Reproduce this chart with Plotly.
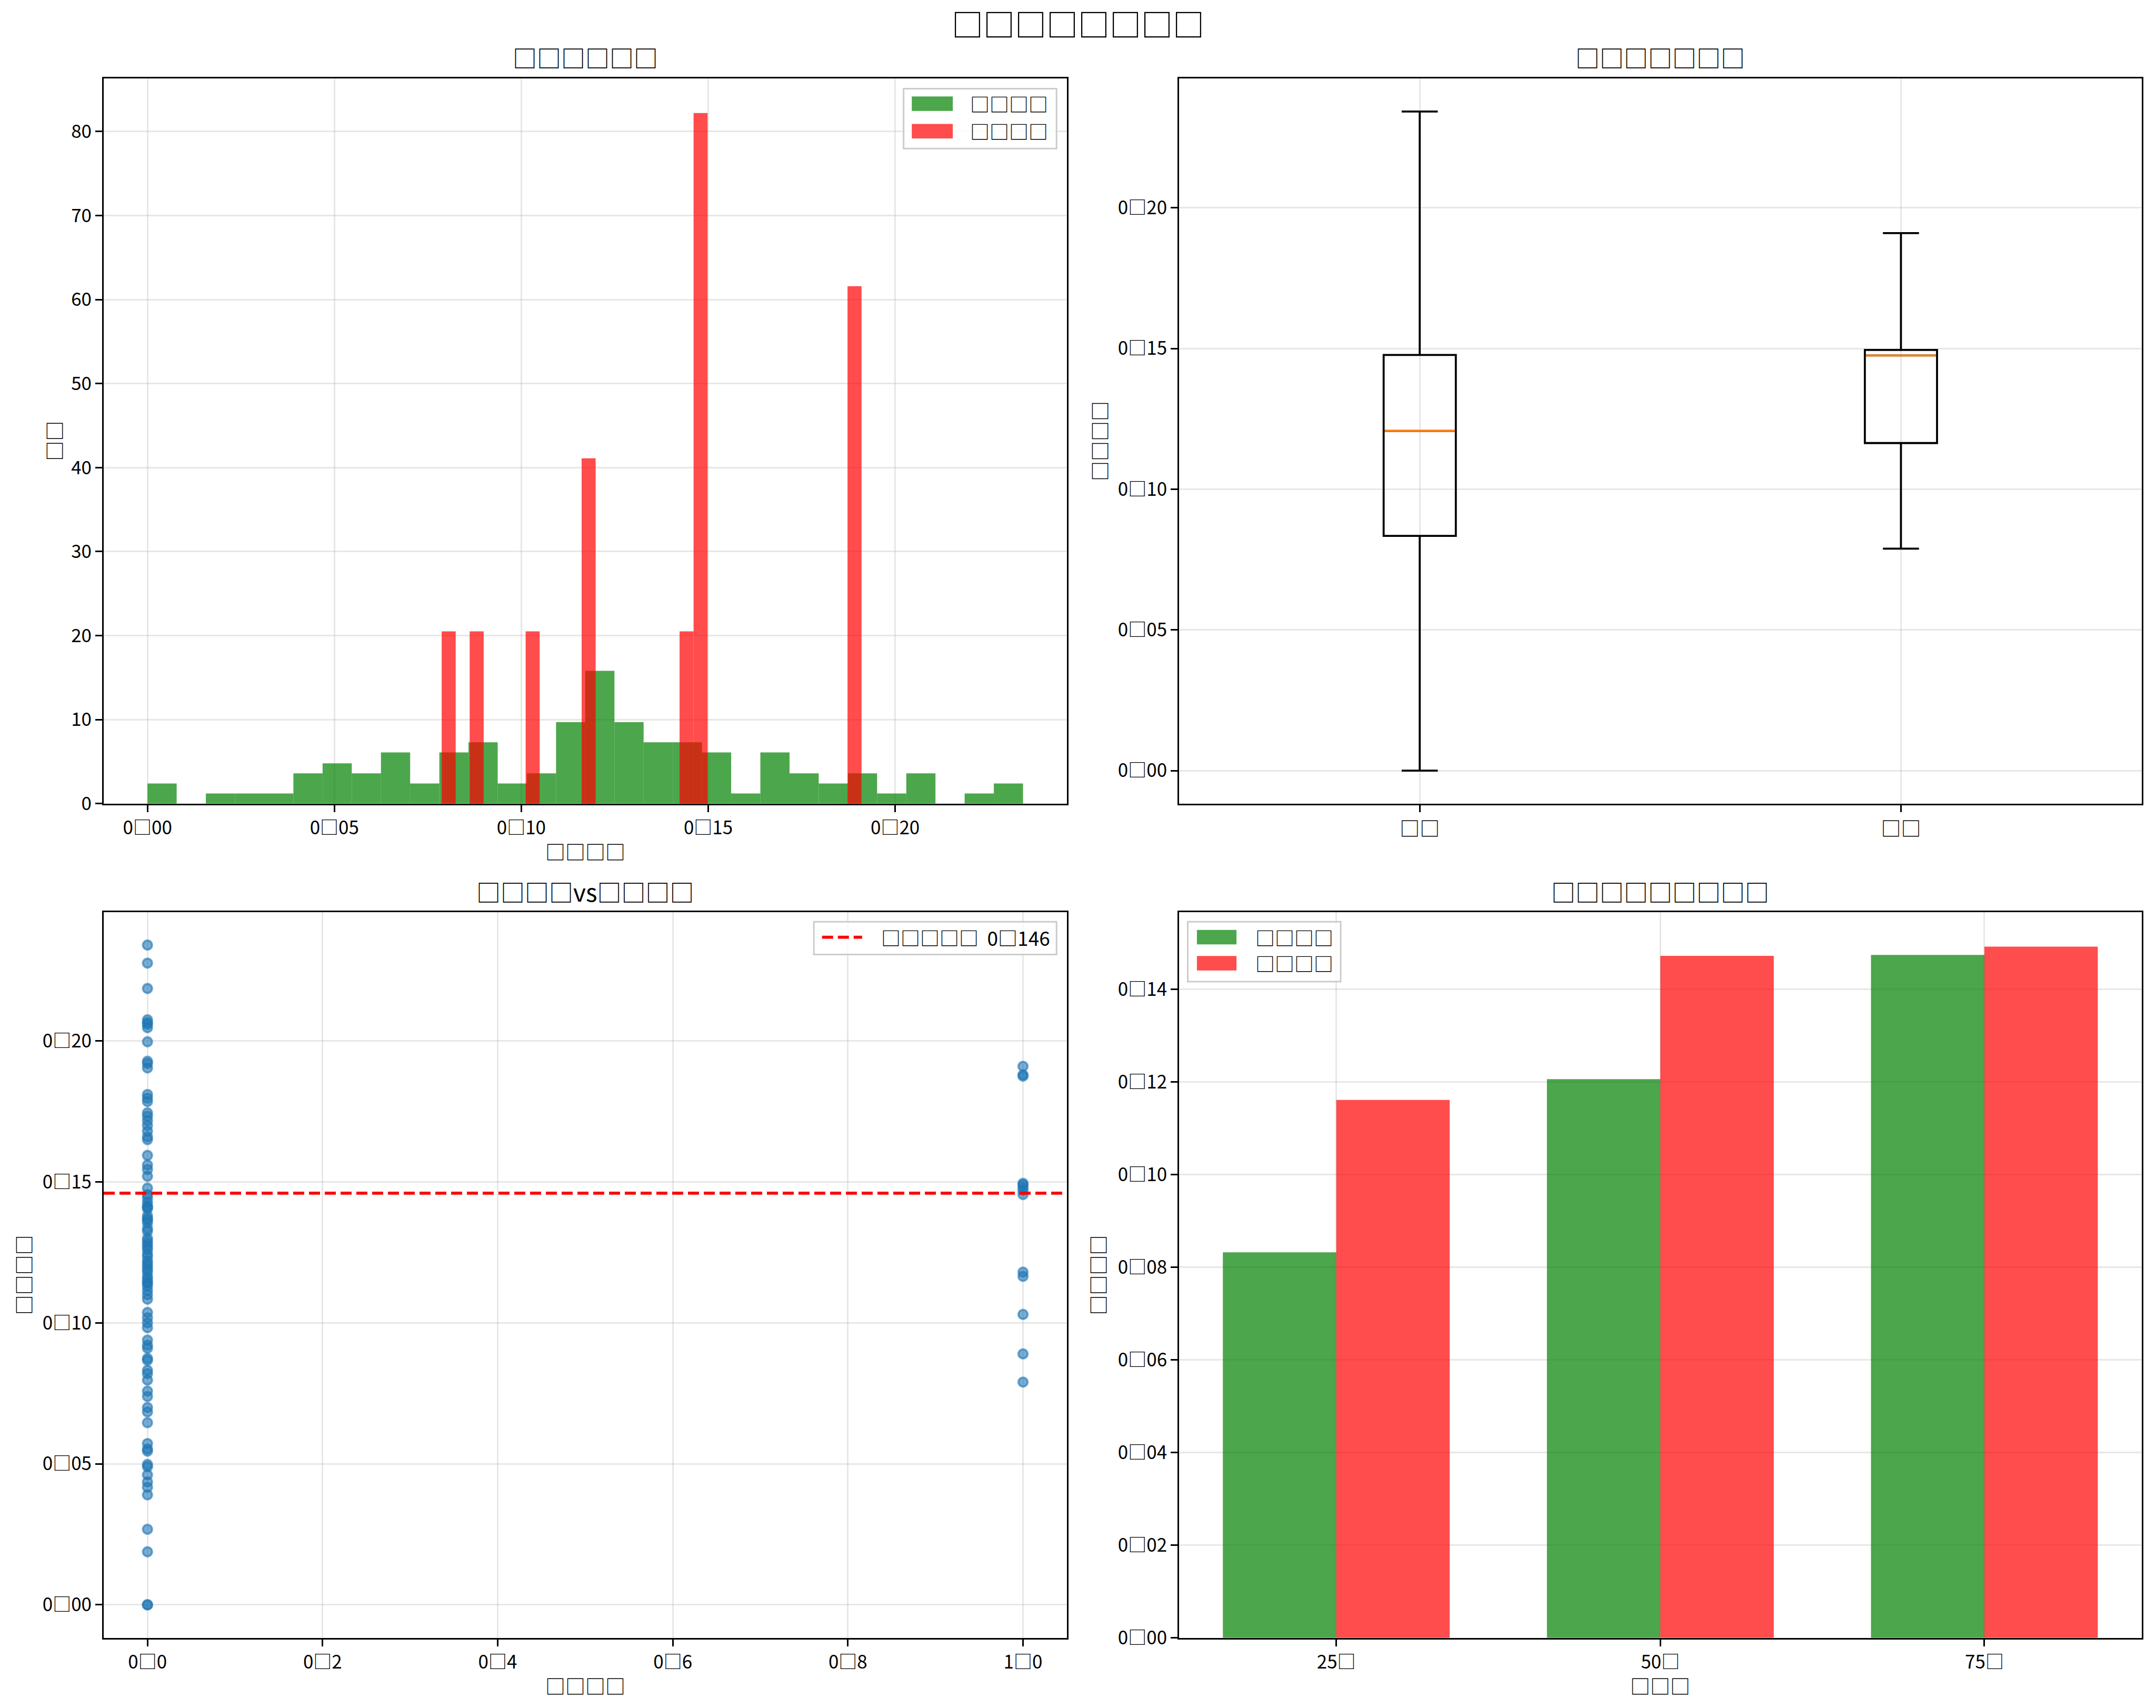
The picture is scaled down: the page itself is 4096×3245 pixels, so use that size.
import numpy as np
import plotly.graph_objects as go

# ---------------- data ----------------
BOX = "□"
sup_title = "□□□□□□□□"
titles = ["□□□□□□", "□□□□□□□", "□□□□vs□□□□", "□□□□□□□□□"]
series_names = ["□□□□", "□□□□"]

# histogram (density heights), 30 bins each
green_hist_range = (0.0, 0.2342)
green_hist_heights = [2.4, 0, 1.2, 1.2, 1.2, 3.6, 4.8, 3.6, 6.1, 2.4,
                      6.1, 7.3, 2.4, 3.6, 9.7, 15.8, 9.7, 7.3, 7.3, 6.1,
                      1.2, 6.1, 3.6, 2.4, 3.6, 1.2, 3.6, 0, 1.2, 2.4]
red_hist_range = (0.0787, 0.1910)
red_hist_heights = [20.5, 0, 20.5, 0, 0, 0, 20.5, 0, 0, 0,
                    41.1, 0, 0, 0, 0, 0, 0, 20.5, 82.2, 0,
                    0, 0, 0, 0, 0, 0, 0, 0, 0, 61.6]

# box plot statistics
box_labels = ["□□", "□□"]
box_q1 = [0.0834, 0.1164]
box_median = [0.1207, 0.1475]
box_q3 = [0.1477, 0.1495]
box_low = [0.0000, 0.0789]
box_high = [0.2342, 0.1910]

# scatter
scatter_y_group0 = [0.234, 0.2276, 0.2186, 0.2075, 0.2065, 0.2059, 0.2047, 0.1997,
                    0.1928, 0.192, 0.1904, 0.181, 0.1797, 0.1785, 0.1745, 0.1733,
                    0.1717, 0.170, 0.168, 0.166, 0.165, 0.1594, 0.156, 0.1544,
                    0.152, 0.1478, 0.1455, 0.1444, 0.1428, 0.1415, 0.141, 0.1405,
                    0.138, 0.137, 0.1365, 0.1355, 0.1335, 0.1325, 0.130, 0.129,
                    0.128, 0.127, 0.126, 0.1245, 0.1235, 0.122, 0.121, 0.120,
                    0.119, 0.118, 0.1165, 0.1155, 0.1145, 0.114, 0.113, 0.1115,
                    0.110, 0.1084, 0.1037, 0.1018, 0.100, 0.0983, 0.0939, 0.0921,
                    0.091, 0.0874, 0.0867, 0.0832, 0.082, 0.0797, 0.0758, 0.0739,
                    0.070, 0.0684, 0.0646, 0.0572, 0.0553, 0.0545, 0.0498, 0.049,
                    0.0461, 0.0436, 0.0417, 0.039, 0.0268, 0.0188, 0.0, 0.0]
scatter_y_group1 = [0.079, 0.089, 0.103, 0.1165, 0.118, 0.1455, 0.147, 0.148,
                    0.149, 0.1495, 0.1875, 0.188, 0.191]
scatter_x_values = [0.0, 1.0]
mean_value = 0.146
mean_label = "□□□□□\u00a0\u00a00□146"

# percentile bars
pct_labels = ["25□", "50□", "75□"]
pct_green = [0.0832, 0.1206, 0.1474]
pct_red = [0.1161, 0.1472, 0.1492]

# axis labels
xlabels = ["□□□□", None, "□□□□", "□□□"]
ylabels = ["□□", "□□□□", "□□□□", "□□□□"]

# ---------------- styling ----------------
W, H = 4096, 3245
FONT = "Noto Sans CJK SC"
GREEN = "rgba(0,128,0,0.7)"
RED = "rgba(255,0,0,0.7)"
GRID = "rgba(176,176,176,0.3)"
TICK_FS = 35
LABEL_FS = 38
TITLE_FS = 46
SUP_FS = 60
LEG_FS = 37
LW = 3.0

XD = [[0.0481, 0.4948], [0.5469, 0.9933], [0.0481, 0.4948], [0.5469, 0.9933]]
YD = [[0.5295, 0.954], [0.5295, 0.954], [0.0411, 0.466], [0.0411, 0.466]]


def fmt(v, nd):
    return f"{v:.{nd}f}".replace(".", BOX)


def pad(lo, hi, f=0.05):
    d = hi - lo
    return [lo - f * d, hi + f * d]


fig = go.Figure()

# --- TL histogram ---
def hist_bars(rng, heights, color, name):
    n = len(heights)
    edges = np.linspace(rng[0], rng[1], n + 1)
    centers = (edges[:-1] + edges[1:]) / 2
    w = edges[1] - edges[0]
    return go.Bar(x=centers, y=heights, width=w, marker=dict(color=color, line=dict(width=0)),
                  name=name, showlegend=False, xaxis="x", yaxis="y")

fig.add_trace(hist_bars(green_hist_range, green_hist_heights, GREEN, series_names[0]))
fig.add_trace(hist_bars(red_hist_range, red_hist_heights, RED, series_names[1]))

# --- TR box plot ---
box_pos = [1, 2]
for i, p in enumerate(box_pos):
    fig.add_trace(go.Box(x=[p], q1=[box_q1[i]], median=[box_median[i]], q3=[box_q3[i]],
                         lowerfence=[box_low[i]], upperfence=[box_high[i]],
                         width=0.15, whiskerwidth=0.5, fillcolor="rgba(0,0,0,0)",
                         line=dict(color="black", width=3.8), boxpoints=False,
                         showlegend=False, xaxis="x2", yaxis="y2", hoverinfo="skip"))
    fig.add_trace(go.Scatter(x=[p - 0.075 + 0.002, p + 0.075 - 0.002], y=[box_median[i]] * 2,
                             mode="lines", line=dict(color="#ff7f0e", width=3.8),
                             showlegend=False, xaxis="x2", yaxis="y2"))

# --- BL scatter ---
for xv, ys in zip(scatter_x_values, [scatter_y_group0, scatter_y_group1]):
    fig.add_trace(go.Scatter(x=[xv] * len(ys), y=ys, mode="markers",
                             marker=dict(size=17.5, color="rgba(31,119,180,0.6)",
                                         line=dict(width=3.8, color="rgba(31,119,180,0.6)")),
                             showlegend=False, xaxis="x3", yaxis="y3"))

# --- BR grouped bars ---
bw = 0.35
idx = np.arange(len(pct_labels))
fig.add_trace(go.Bar(x=idx - bw / 2, y=pct_green, width=bw, marker=dict(color=GREEN, line=dict(width=0)),
                     showlegend=False, xaxis="x4", yaxis="y4"))
fig.add_trace(go.Bar(x=idx + bw / 2, y=pct_red, width=bw, marker=dict(color=RED, line=dict(width=0)),
                     showlegend=False, xaxis="x4", yaxis="y4"))

# ---------------- axes ----------------
all_y0 = scatter_y_group0 + scatter_y_group1
green_edges_hi = green_hist_range[1]
axes_cfg = [
    dict(xr=pad(green_hist_range[0], green_edges_hi), yr=[0, max(red_hist_heights + green_hist_heights) * 1.05],
         xt=[0, 0.05, 0.10, 0.15, 0.20], xtt=[fmt(v, 2) for v in [0, 0.05, 0.10, 0.15, 0.20]],
         yt=list(range(0, 81, 10)), ytt=[str(v) for v in range(0, 81, 10)]),
    dict(xr=[0.5, 2.5], yr=pad(min(box_low), max(box_high)),
         xt=box_pos, xtt=box_labels,
         yt=[0, 0.05, 0.10, 0.15, 0.20], ytt=[fmt(v, 2) for v in [0, 0.05, 0.10, 0.15, 0.20]]),
    dict(xr=pad(0, 1), yr=pad(min(all_y0), max(all_y0)),
         xt=[0, 0.2, 0.4, 0.6, 0.8, 1.0], xtt=[fmt(v, 1) for v in [0, 0.2, 0.4, 0.6, 0.8, 1.0]],
         yt=[0, 0.05, 0.10, 0.15, 0.20], ytt=[fmt(v, 2) for v in [0, 0.05, 0.10, 0.15, 0.20]]),
    dict(xr=pad(-bw, len(pct_labels) - 1 + bw), yr=[0, max(pct_green + pct_red) * 1.05],
         xt=list(idx), xtt=pct_labels,
         yt=[0, 0.02, 0.04, 0.06, 0.08, 0.10, 0.12, 0.14],
         ytt=[fmt(v, 2) for v in [0, 0.02, 0.04, 0.06, 0.08, 0.10, 0.12, 0.14]]),
]

layout = dict(width=W, height=H, margin=dict(l=0, r=0, t=0, b=0, autoexpand=False),
              paper_bgcolor="white", plot_bgcolor="white", barmode="overlay",
              showlegend=False, font=dict(family=FONT, color="black"))

common = dict(showline=True, linecolor="black", linewidth=LW, mirror=True,
              ticks="outside", ticklen=13, tickwidth=LW, tickcolor="black",
              showgrid=True, gridcolor=GRID, gridwidth=3, zeroline=False, automargin=False,
              tickfont=dict(family=FONT, size=TICK_FS, color="black"), tickmode="array")

for i, c in enumerate(axes_cfg):
    sx = "" if i == 0 else str(i + 1)
    xa = dict(common, domain=XD[i], range=c["xr"], tickvals=c["xt"], ticktext=c["xtt"],
              anchor="y" + sx)
    if i == 1:
        xa["tickfont"] = dict(family=FONT, size=LABEL_FS, color="black")
    ya = dict(common, domain=YD[i], range=c["yr"], tickvals=c["yt"], ticktext=c["ytt"],
              anchor="x" + sx)
    layout["xaxis" + sx] = xa
    layout["yaxis" + sx] = ya

fig.update_layout(**layout)

# ---------------- text ----------------
ann = []
ann.append(dict(text=sup_title, x=0.5, y=1 - 48 / 3541, xref="paper", yref="paper",
                showarrow=False, font=dict(size=SUP_FS, family=FONT), xanchor="center", yanchor="middle"))
title_y = [1 - 118 / 3541, 1 - 118 / 3541, 1 - 1847 / 3541, 1 - 1847 / 3541]
for i in range(4):
    ann.append(dict(text=titles[i], x=sum(XD[i]) / 2, y=title_y[i], xref="paper", yref="paper",
                    showarrow=False, font=dict(size=TITLE_FS, family=FONT), xanchor="center", yanchor="middle"))
xlabel_y = [1 - 1764 / 3541, None, 1 - 3494 / 3541, 1 - 3494 / 3541]
ylabel_x = [110 / 4469, 2277 / 4469, 47 / 4469, 2274 / 4469]
for i in range(4):
    if xlabels[i]:
        ann.append(dict(text=xlabels[i], x=sum(XD[i]) / 2, y=xlabel_y[i], xref="paper", yref="paper",
                        showarrow=False, font=dict(size=LABEL_FS, family=FONT), xanchor="center", yanchor="middle"))
    ann.append(dict(text=ylabels[i], x=ylabel_x[i], y=sum(YD[i]) / 2, xref="paper", yref="paper",
                    showarrow=False, textangle=-90, font=dict(size=LABEL_FS, family=FONT),
                    xanchor="center", yanchor="middle"))

shapes = []
# mean line in scatter
shapes.append(dict(type="line", xref="x3 domain", yref="y3", x0=0, x1=1, y0=mean_value, y1=mean_value,
                   line=dict(color="red", width=5.7, dash="21px,9px")))

def px2x(v):
    return v / 4469

def px2y(v):
    return 1 - v / 3541

def legend_frame(x0, x1, y0, y1):
    shapes.append(dict(type="rect", xref="paper", yref="paper", x0=px2x(x0), x1=px2x(x1),
                       y0=px2y(y1), y1=px2y(y0), line=dict(color="#cccccc", width=3),
                       fillcolor="rgba(255,255,255,0.8)", layer="above"))

def legend_patch(x0, x1, yc, color):
    shapes.append(dict(type="rect", xref="paper", yref="paper", x0=px2x(x0), x1=px2x(x1),
                       y0=px2y(yc + 15), y1=px2y(yc - 15), line=dict(width=0),
                       fillcolor=color, layer="above"))

def legend_text(x, yc, t):
    ann.append(dict(text=t, x=px2x(x), y=px2y(yc), xref="paper", yref="paper", showarrow=False,
                    font=dict(size=LEG_FS, family=FONT), xanchor="left", yanchor="middle"))

# TL legend
legend_frame(1873, 2190, 184, 308)
legend_patch(1890, 1975, 215, GREEN)
legend_patch(1890, 1975, 272, RED)
legend_text(2009, 215, series_names[0])
legend_text(2009, 272, series_names[1])
# BL legend
legend_frame(1687, 2190, 1911, 1979)
shapes.append(dict(type="line", xref="paper", yref="paper", x0=px2x(1704), x1=px2x(1787),
                   y0=px2y(1943), y1=px2y(1943), line=dict(color="red", width=5.7, dash="21px,9px"),
                   layer="above"))
legend_text(1824, 1944, mean_label)
# BR legend
legend_frame(2462, 2779, 1911, 2035)
legend_patch(2481, 2563, 1943, GREEN)
legend_patch(2481, 2563, 1997, RED)
legend_text(2600, 1943, series_names[0])
legend_text(2600, 1997, series_names[1])

fig.update_layout(annotations=ann, shapes=shapes)
fig.write_html("out.html")
